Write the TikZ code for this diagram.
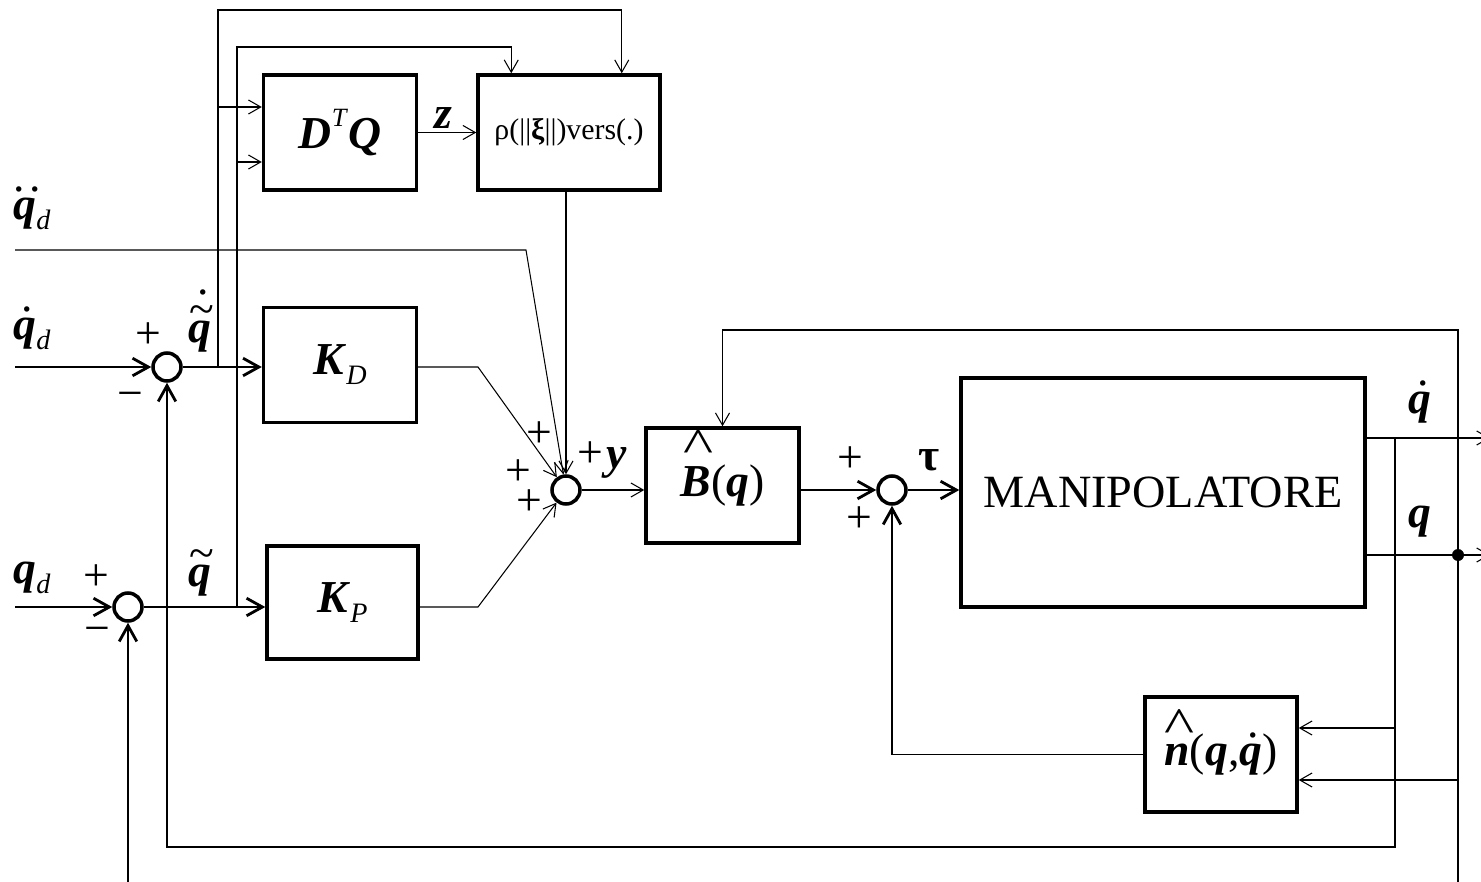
\documentclass[tikz,border=0pt]{standalone}
\usepackage{fontspec}
\usepackage{graphicx}
\setmainfont{Liberation Serif}
\usetikzlibrary{arrows.meta}
\newcommand{\bi}[1]{\textbf{\textit{#1}}}
\newcommand{\accdot}[1]{\ooalign{#1\cr\hidewidth\kern0.12em\raisebox{0.62em}{\normalfont .}\hidewidth\cr}}
\newcommand{\accddot}[1]{\ooalign{#1\cr\hidewidth\kern0.1em\raisebox{0.62em}{\normalfont .\kern0.08em.}\hidewidth\cr}}
\newcommand{\acctil}[1]{\ooalign{#1\cr\hidewidth\kern0.1em\raisebox{0.4em}{\normalfont\textasciitilde}\hidewidth\cr}}
\newcommand{\acctildot}[1]{\ooalign{#1\cr\hidewidth\kern0.1em\raisebox{0.4em}{\normalfont\textasciitilde}\hidewidth\cr\hidewidth\kern0.15em\raisebox{1.05em}{\normalfont .}\hidewidth\cr}}
\newcommand{\acchat}[2]{\ooalign{#2\cr\hidewidth\kern0.12em\raisebox{#1}{\normalfont\scalebox{1.4}[1.1]{\textasciicircum}}\hidewidth\cr}}
\newcommand{\sub}[1]{\raisebox{-0.22em}{\fontsize{16}{16}\selectfont\textit{#1}}}
\begin{document}
\begin{tikzpicture}[x=0.02cm, y=-0.02cm,
    every node/.style={font=\fontsize{26}{30}\selectfont},
    block/.style={draw, line width=2pt, inner sep=0pt, minimum width=3.06cm, minimum height=2.3cm},
    sum/.style={draw, circle, line width=2pt, minimum size=0.56cm, inner sep=0pt},
    lab/.style={inner sep=0pt},
    wire/.style={line width=0.6pt},
    sig/.style={wire, -{Straight Barb[length=7pt, width=8pt]}},
    bsig/.style={wire, -{Straight Barb[length=9pt, width=10pt, line width=1.6pt]}}]
      \useasboundingbox (0,0) rectangle (1481,882);
      % BLOCKS
      \node[block] (dtq) at (340,132.5) {\bi{D}\raisebox{0.5em}{\fontsize{15}{15}\selectfont\textit{T}}\bi{Q}};
      \node[block, minimum width=3.64cm] (rho) at (569,132.5) {\fontsize{17}{20}\selectfont ρ(||\textbf{ξ}||)vers(.)};
      \node[block] (kd) at (340,365) {\bi{K}\sub{D}};
      \node[block, minimum width=3.02cm, minimum height=2.26cm] (kp) at (342.5,602.5) {\bi{K}\sub{P}};
      \node[block] (bhat) at (722.5,485.5) {\bi{\acchat{0.74em}{B}}(\bi{q})};
      \node[block, minimum width=8.08cm, minimum height=4.58cm] (manip) at (1163,492.5) {\fontsize{26.3}{30}\selectfont MANIPOLATORE};
      \node[block, minimum width=3.04cm] (nhat) at (1221,754.5) {\bi{\acchat{0.5em}{n}}(\bi{q},\bi{\accdot{q}})};
      % SUMS
      \node[sum] (s1) at (167,367) {};
      \node[sum] (s2) at (128,607) {};
      \node[sum] (s3) at (566,490) {};
      \node[sum] (s4) at (892,490) {};
      % POINTS
      \coordinate (qddin) at (15,250);
      \coordinate (qdin) at (15,367);
      \coordinate (qin) at (15,607);
      \coordinate (qddk) at (526,250);
      \coordinate (kdk) at (478,367);
      \coordinate (kpk) at (478,607);
      \coordinate (b1) at (218,367);
      \coordinate (b2) at (237,607);
      \coordinate (top1) at (218,10);
      \coordinate (top2) at (237,47);
      \coordinate (qdout) at (1490,438);
      \coordinate (qout) at (1490,555);
      \coordinate (bq) at (1395,438);
      \coordinate (bqq) at (1458,555);
      \coordinate (fbtop) at (1458,330);
      \coordinate (fbbot) at (1395,847);
      \coordinate (low1) at (1458,882);
      \coordinate (low2) at (128,882);
      % WIRES
      \draw[bsig] (qdin) -- (s1);
      \draw[bsig] (qin) -- (s2);
      \draw[bsig] (s1) -- (s1 -| kd.west);
      \draw[bsig] (s2) -- (s2 -| kp.west);
      \draw[sig] (b1) -- (top1) -| ([xshift=-0.8cm]rho.north east);
      \draw[sig] (b2) -- (top2) -| ([xshift=0.7cm]rho.north west);
      \draw[sig] ([yshift=0.51cm]dtq.west -| b1) -- ([yshift=0.51cm]dtq.west);
      \draw[sig] ([yshift=-0.59cm]dtq.west -| b2) -- ([yshift=-0.59cm]dtq.west);
      \draw[sig] (dtq) -- (rho);
      \draw[sig] (rho.south -| s3) -- (s3);
      \draw[sig] (qddin) -- (qddk) -- (s3);
      \draw[sig] (kd.east |- kdk) -- (kdk) -- (s3);
      \draw[sig] (kp.east |- kpk) -- (kpk) -- (s3);
      \draw[sig] (s3) -- (s3 -| bhat.west);
      \draw[bsig] (bhat.east |- s4) -- (s4);
      \draw[bsig] (s4) -- (s4 -| manip.west);
      \draw[sig] (manip.east |- bq) -- (qdout);
      \draw[sig] (manip.east |- bqq) -- (qout);
      \fill (bqq) circle[radius=0.12cm];
      \draw[bsig] (bq) -- (fbbot) -| (s1);
      \draw[sig] ([yshift=0.53cm]nhat.east -| bq) -- ([yshift=0.53cm]nhat.east);
      \draw[sig] ([yshift=-0.51cm]nhat.east -| bqq) -- ([yshift=-0.51cm]nhat.east);
      \draw[sig] (low1) -- (fbtop) -| (bhat);
      \draw[bsig] (nhat.west) -| (s4);
      \draw[bsig] (low2) -- (s2);
      % LABELS
      \node[lab] (lqdd) at (32,214) {\bi{\accddot{q}}\sub{d}};
      \node[lab] (lqd) at (32,334) {\bi{\accdot{q}}\sub{d}};
      \node[lab] (lq) at (32,578) {\bi{q}\sub{d}};
      \node[lab] (p1) at (148,336) {+};
      \node[lab] (m1) at (130,400) {−};
      \node[lab] (p2) at (96,578) {+};
      \node[lab] (m2) at (97,635) {−};
      \node[lab] (le1) at (200,332) {\bi{\acctildot{q}}};
      \node[lab] (le2) at (200,576) {\bi{\acctil{q}}};
      \node[lab] (lz) at (443,118) {\bi{z}};
      \node[lab] (p3) at (539,435) {+};
      \node[lab] (p4) at (518,473) {+};
      \node[lab] (p5) at (529,503) {+};
      \node[lab] (p6) at (590,455) {+};
      \node[lab] (ly) at (617,463) {\bi{y}};
      \node[lab] (p7) at (850,460) {+};
      \node[lab] (p8) at (859,520) {+};
      \node[lab] (ltau) at (929,460) {\textbf{τ}};
      \node[lab] (lqdot) at (1420,403) {\bi{\accdot{q}}};
      \node[lab] (lqq) at (1420,522) {\bi{q}};
\end{tikzpicture}
\end{document}
